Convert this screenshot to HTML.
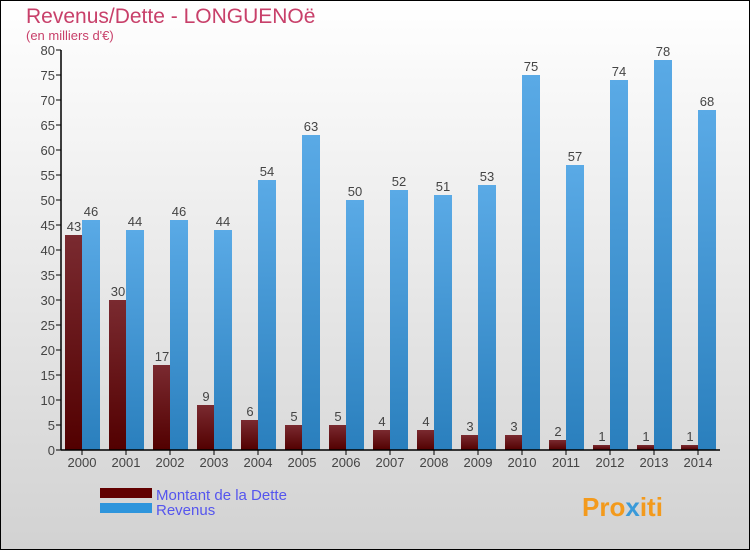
<!DOCTYPE html>
<html><head><meta charset="utf-8"><style>
body{margin:0;width:750px;height:550px;overflow:hidden}
svg{display:block;font-family:"Liberation Sans",sans-serif}
</style></head><body>
<svg id="c" width="750" height="550">
<defs>
<linearGradient id="bg" x1="0" y1="0" x2="0" y2="1"><stop offset="0" stop-color="#ffffff"/><stop offset="1" stop-color="#d2d2d2"/></linearGradient>
<linearGradient id="gd" x1="0" y1="0" x2="0" y2="1"><stop offset="0" stop-color="#7a2a30"/><stop offset="1" stop-color="#520000"/></linearGradient>
<linearGradient id="gr" x1="0" y1="0" x2="0" y2="1"><stop offset="0" stop-color="#5aaae6"/><stop offset="1" stop-color="#2a7fbd"/></linearGradient>
</defs>
<rect x="0.5" y="0.5" width="749" height="549" fill="url(#bg)" stroke="#000"/>
<text x="26" y="23" font-size="21" fill="#c8406a">Revenus/Dette - LONGUENOë</text>
<text x="26" y="40" font-size="13" fill="#c8406a">(en milliers d'€)</text>
<g id="plot"></g>
<rect x="100" y="488" width="52" height="10" fill="#620000"/>
<rect x="100" y="503" width="52" height="10" fill="#2e95dc"/>
<text x="156" y="500" font-size="15" fill="#5555ee">Montant de la Dette</text>
<text x="156" y="515" font-size="15" fill="#5555ee">Revenus</text>
<text x="582" y="516" font-size="26" font-weight="bold" fill="#f39a1c">Pro<tspan fill="#3a9ad9">x</tspan>iti</text>
</svg>
<script>
const years=["2000","2001","2002","2003","2004","2005","2006","2007","2008","2009","2010","2011","2012","2013","2014"];
const debt=[43,30,17,9,6,5,5,4,4,3,3,2,1,1,1];
const revenue=[46,44,46,44,54,63,50,52,51,53,75,57,74,78,68];
const yTicks=[0,5,10,15,20,25,30,35,40,45,50,55,60,65,70,75,80];
const NS="http://www.w3.org/2000/svg";
const g=document.getElementById("plot");
const y=v=>450-v*5;
const x=i=>82+i*44;
function mk(t,a){const e=document.createElementNS(NS,t);for(const k in a)e.setAttribute(k,a[k]);g.appendChild(e);return e;}
yTicks.forEach(v=>{
 const l=mk("line",{x1:56,x2:61,y1:y(v),y2:y(v),stroke:"#000"});
 
 
 const t=mk("text",{x:55,y:y(v)+5,"font-size":13,fill:"#444","text-anchor":"end"});t.textContent=v;
 
 
});
years.forEach((yr,i)=>{
 const d=mk("rect",{x:x(i)-17,y:y(debt[i]),width:17,height:debt[i]*5,fill:"url(#gd)"});
 
 
 const r=mk("rect",{x:x(i),y:y(revenue[i]),width:18,height:revenue[i]*5,fill:"url(#gr)"});
 
 
 const dt=mk("text",{x:x(i)-8,y:y(debt[i])-4,"font-size":13,fill:"#444","text-anchor":"middle"});dt.textContent=debt[i];
 
 
 const rt=mk("text",{x:x(i)+9,y:y(revenue[i])-4,"font-size":13,fill:"#444","text-anchor":"middle"});rt.textContent=revenue[i];
 
 
 const tk=mk("line",{x1:x(i),x2:x(i),y1:450,y2:455,stroke:"#000"});
 
 
 const xt=mk("text",{x:x(i),y:467,"font-size":13,fill:"#444","text-anchor":"middle"});xt.textContent=yr;
 
 
});
const ya=mk("line",{x1:61,x2:61,y1:50,y2:450,stroke:"#000","stroke-width":1.5});


const xa=mk("line",{x1:61,x2:720,y1:450,y2:450,stroke:"#000","stroke-width":1.5});


</script>
</body></html>
